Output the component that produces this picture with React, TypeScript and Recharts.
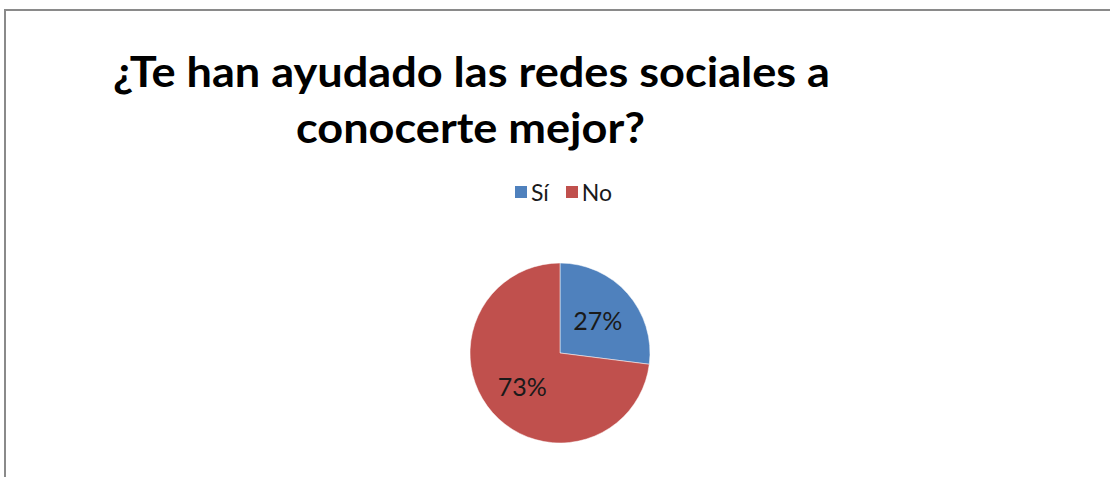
import React from "react";
import { PieChart, Pie, Cell } from "recharts";

const categories = ["Sí", "No"];
const values = [27, 73];
const colors = ["#4F81BD", "#C0504D"];
const titleLines = ["¿Te han ayudado las redes sociales a", "conocerte mejor?"];

const data = categories.map((name, i) => ({ name, value: values[i] }));

const RADIAN = Math.PI / 180;

const renderLabel = (props: any) => {
  const { cx, cy, midAngle, outerRadius, value } = props;
  const r = outerRadius * 0.56;
  const x = cx + r * Math.cos(-midAngle * RADIAN);
  const y = cy + r * Math.sin(-midAngle * RADIAN);
  return (
    <text
      x={x}
      y={y}
      textAnchor="middle"
      dominantBaseline="central"
      fill="#1a1a1a"
      fontFamily="Lato, sans-serif"
      fontSize={25}
    >
      {`${value}%`}
    </text>
  );
};

export default function App() {
  return (
    <div
      style={{
        position: "absolute",
        left: 0,
        top: 0,
        width: 1110,
        height: 477,
        background: "#fff",
        overflow: "hidden",
      }}
    >
      <div
        style={{
          position: "absolute",
          left: 4,
          top: 9,
          width: 1200,
          height: 600,
          borderTop: "2px solid #8a8a8a",
          borderLeft: "2px solid #8a8a8a",
          boxSizing: "border-box",
        }}
      />
      <svg
        width={1110}
        height={170}
        style={{ position: "absolute", left: 0, top: 0 }}
      >
        <text
          x={113}
          y={87}
          fontFamily="Lato, sans-serif"
          fontWeight="bold"
          fontSize={42}
          fill="#000"
          textLength={717}
          lengthAdjust="spacingAndGlyphs"
        >
          {titleLines[0]}
        </text>
        <text
          x={296}
          y={143}
          fontFamily="Lato, sans-serif"
          fontWeight="bold"
          fontSize={42}
          fill="#000"
          textLength={349}
          lengthAdjust="spacingAndGlyphs"
        >
          {titleLines[1]}
        </text>
      </svg>
      <div
        style={{
          position: "absolute",
          left: 0,
          top: 179,
          width: 1127,
          display: "flex",
          justifyContent: "center",
          fontFamily: "Lato, sans-serif",
          fontSize: 23,
          color: "#1a1a1a",
          lineHeight: "26px",
        }}
      >
        {categories.map((c, i) => (
          <div
            key={c}
            style={{ display: "flex", alignItems: "center", marginRight: i === 0 ? 17 : 0 }}
          >
            <span
              style={{
                display: "inline-block",
                width: 12,
                height: 12,
                background: colors[i],
                marginRight: 4,
              }}
            />
            <span>{c}</span>
          </div>
        ))}
      </div>
      <div style={{ position: "absolute", left: 0, top: 0 }}>
        <PieChart
          width={1110}
          height={477}
          margin={{ top: 0, right: 0, bottom: 0, left: 0 }}
        >
          <Pie
            data={data}
            dataKey="value"
            nameKey="name"
            cx={560}
            cy={353}
            outerRadius={90}
            startAngle={90}
            endAngle={-270}
            stroke="#ffffff"
            strokeWidth={0.5}
            label={renderLabel}
            labelLine={false}
            isAnimationActive={false}
          >
            {data.map((d, i) => (
              <Cell key={d.name} fill={colors[i]} />
            ))}
          </Pie>
        </PieChart>
      </div>
    </div>
  );
}
